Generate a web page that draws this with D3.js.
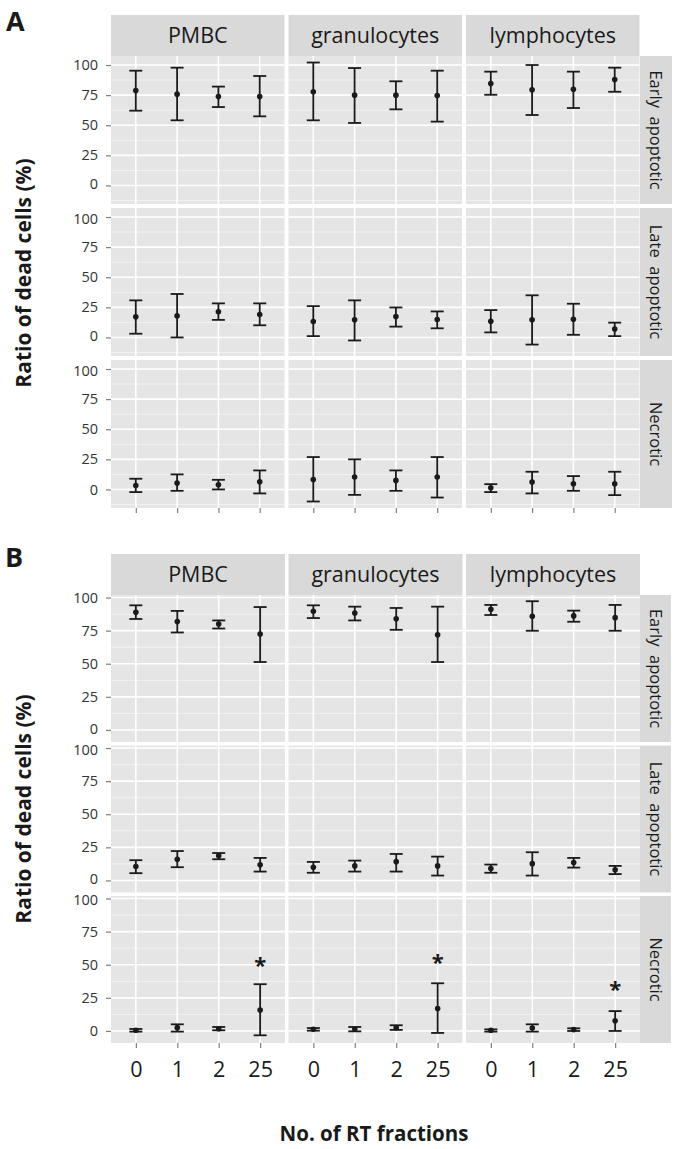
<!DOCTYPE html>
<html><head><meta charset="utf-8">
<script src="https://cdn.jsdelivr.net/npm/d3@7"></script>
<style>
html,body{margin:0;padding:0;background:#fff;}
svg{display:block;}
text{font-family:"Open Sans", sans-serif;}
</style></head><body>
<svg id="chart" width="678" height="1149"></svg>
<script>
// ---------- data ----------
const cellTypes = ["PMBC", "granulocytes", "lymphocytes"];
const stages = ["Early  apoptotic", "Late  apoptotic", "Necrotic"];
const fractions = ["0", "1", "2", "25"];
const yTickValues = [0, 25, 50, 75, 100];
const yMinorValues = [-12.5, 12.5, 37.5, 62.5, 87.5];

// Panel A (per cell type: values for fractions 0, 1, 2, 25)
const aEarlyMean  = [[78.8, 75.8, 73.9, 73.9], [77.8, 75.0, 75.0, 74.7], [84.6, 79.4, 79.9, 87.9]];
const aEarlyLower = [[62.1, 54.1, 65.1, 57.4], [54.1, 51.9, 63.2, 53.0], [75.3, 58.5, 64.3, 77.8]];
const aEarlyUpper = [[95.3, 97.8, 82.1, 90.9], [102.1, 97.5, 86.5, 95.3], [94.5, 100.0, 94.5, 97.8]];
const aLateMean   = [[17.1, 17.9, 21.3, 19.0], [13.2, 14.6, 17.4, 14.9], [13.4, 14.6, 15.1, 7.0]];
const aLateLower  = [[3.1, 0.0, 14.6, 10.1], [1.1, -2.5, 9.0, 7.6], [4.2, -5.9, 2.2, 1.1]];
const aLateUpper  = [[30.8, 36.1, 28.3, 28.3], [26.0, 30.8, 24.9, 21.6], [22.7, 35.0, 28.0, 12.3]];
const aNecMean    = [[3.3, 5.3, 3.9, 6.4], [8.3, 10.3, 7.5, 10.3], [1.4, 6.1, 4.7, 4.7]];
const aNecLower   = [[-2.2, -1.1, 0.0, -3.3], [-10.0, -4.5, -1.1, -6.7], [-2.2, -3.3, -1.1, -4.7]];
const aNecUpper   = [[8.9, 12.5, 8.0, 15.8], [26.9, 25.0, 15.8, 26.9], [4.4, 14.7, 11.1, 14.7]];

// Panel B
const bEarlyMean  = [[88.8, 81.9, 80.0, 72.4], [89.6, 88.3, 84.0, 71.8], [91.1, 85.8, 86.1, 84.8]];
const bEarlyLower = [[83.8, 73.6, 76.6, 51.3], [84.5, 82.7, 75.6, 51.3], [86.8, 74.9, 81.7, 74.9]];
const bEarlyUpper = [[94.1, 89.9, 82.7, 92.8], [94.1, 93.1, 92.1, 93.1], [94.4, 97.2, 90.1, 94.4]];
const bLateMean   = [[10.5, 16.0, 18.7, 11.8], [10.0, 11.0, 14.2, 11.0], [9.0, 12.7, 13.5, 8.0]];
const bLateLower  = [[5.5, 10.0, 16.0, 6.7], [5.8, 6.7, 6.7, 3.7], [5.8, 3.7, 9.7, 4.8]];
const bLateUpper  = [[15.3, 22.2, 20.7, 17.0], [14.0, 15.0, 20.0, 18.0], [12.0, 21.3, 17.0, 11.0]];
const bNecMean    = [[0.5, 2.5, 1.7, 15.8], [1.2, 1.5, 2.5, 17.0], [0.5, 2.2, 1.0, 7.7]];
const bNecLower   = [[-0.5, -0.5, 0.5, -3.3], [0.2, -0.3, 0.8, -1.5], [-0.5, -0.5, 0.0, 0.0]];
const bNecUpper   = [[1.5, 5.0, 3.0, 35.3], [2.2, 3.0, 4.3, 36.0], [1.2, 5.0, 2.0, 15.0]];

// significance marks in panel B (Necrotic, 25 fractions)
const bStarCells = ["PMBC", "granulocytes", "lymphocytes"];
const bStarFraction = "25";
const bStarValue = [53, 55.3, 34.5];

// ---------- build tables ----------
function buildRows(means, lowers, uppers) {
  const rows = [];
  stages.forEach((stage, si) => {
    cellTypes.forEach((cell, ci) => {
      fractions.forEach((f, fi) => {
        rows.push({stage, cell, fraction: f,
          mean: means[si][ci][fi], lower: lowers[si][ci][fi], upper: uppers[si][ci][fi]});
      });
    });
  });
  return rows;
}
const dataA = buildRows([aEarlyMean, aLateMean, aNecMean], [aEarlyLower, aLateLower, aNecLower], [aEarlyUpper, aLateUpper, aNecUpper]);
const dataB = buildRows([bEarlyMean, bLateMean, bNecMean], [bEarlyLower, bLateLower, bNecLower], [bEarlyUpper, bLateUpper, bNecUpper]);
const starsB = bStarCells.map((c, i) => ({cell: c, fraction: bStarFraction, stage: "Necrotic", value: bStarValue[i]}));

// ---------- styling ----------
const PANEL_BG = "#E5E5E5";
const STRIP_BG = "#D9D9D9";
const MINOR = "#F2F2F2";
const INK = "#1a1a1a";

const svg = d3.select("#chart");

function drawFigure(cfg, data, stars, showXLabels) {
  const g = svg.append("g");
  const x = d3.scalePoint().domain(fractions).range([0, cfg.panelW]).padding(0.6);

  cellTypes.forEach((cell, ci) => {
    const px = cfg.left + ci * (cfg.panelW + cfg.gapX);
    g.append("rect").attr("x", px).attr("y", cfg.stripTop)
      .attr("width", cfg.panelW).attr("height", cfg.stripH).attr("fill", STRIP_BG);
    g.append("text").attr("x", px + cfg.panelW / 2).attr("y", cfg.stripTop + cfg.stripH / 2)
      .attr("dy", "0.36em").attr("text-anchor", "middle").attr("font-size", 21.5)
      .attr("fill", INK).text(cell);

    stages.forEach((stage, si) => {
      const py = cfg.rowTops[si];
      const y = d3.scaleLinear().domain(cfg.yDomain).range([py + cfg.panelH, py]);
      const pg = g.append("g");
      pg.append("rect").attr("x", px).attr("y", py).attr("width", cfg.panelW)
        .attr("height", cfg.panelH).attr("fill", PANEL_BG);
      pg.selectAll(".mn").data(yMinorValues.filter(v => v >= cfg.yDomain[0] && v <= cfg.yDomain[1]))
        .join("line").attr("x1", px).attr("x2", px + cfg.panelW)
        .attr("y1", d => y(d)).attr("y2", d => y(d))
        .attr("stroke", MINOR).attr("stroke-width", 1);
      pg.selectAll(".mj").data(yTickValues).join("line")
        .attr("x1", px).attr("x2", px + cfg.panelW)
        .attr("y1", d => y(d)).attr("y2", d => y(d))
        .attr("stroke", "#fff").attr("stroke-width", 1.6);
      pg.selectAll(".vx").data(fractions).join("line")
        .attr("x1", d => px + x(d)).attr("x2", d => px + x(d))
        .attr("y1", py).attr("y2", py + cfg.panelH)
        .attr("stroke", "#fff").attr("stroke-width", 1.6);

      const rows = data.filter(d => d.stage === stage && d.cell === cell);
      const eb = pg.selectAll(".eb").data(rows).join("g");
      eb.append("line").attr("x1", d => px + x(d.fraction)).attr("x2", d => px + x(d.fraction))
        .attr("y1", d => y(d.lower)).attr("y2", d => y(d.upper))
        .attr("stroke", INK).attr("stroke-width", 1.8);
      eb.append("line").attr("x1", d => px + x(d.fraction) - 6.5).attr("x2", d => px + x(d.fraction) + 6.5)
        .attr("y1", d => y(d.lower)).attr("y2", d => y(d.lower))
        .attr("stroke", INK).attr("stroke-width", 1.8);
      eb.append("line").attr("x1", d => px + x(d.fraction) - 6.5).attr("x2", d => px + x(d.fraction) + 6.5)
        .attr("y1", d => y(d.upper)).attr("y2", d => y(d.upper))
        .attr("stroke", INK).attr("stroke-width", 1.8);
      eb.append("circle").attr("cx", d => px + x(d.fraction)).attr("cy", d => y(d.mean))
        .attr("r", 2.8).attr("fill", INK);

      const st = stars.filter(d => d.stage === stage && d.cell === cell);
      pg.selectAll(".st").data(st).join("text")
        .attr("x", d => px + x(d.fraction)).attr("y", d => y(d.value) + 12)
        .attr("text-anchor", "middle").attr("font-size", 22).attr("font-weight", "bold")
        .attr("fill", INK).text("*");

      if (ci === 0) {
        const ax = g.append("g").attr("transform", `translate(${cfg.left},0)`)
          .call(d3.axisLeft(y).tickValues(yTickValues).tickSize(5).tickPadding(8));
        ax.select(".domain").remove();
        ax.selectAll(".tick line").attr("stroke", "#7f7f7f").attr("stroke-width", 1.2);
        ax.selectAll(".tick text").attr("font-size", 14.5).attr("fill", "#333")
          .attr("font-family", "Open Sans, sans-serif")
          .attr("y", d => (d === 100 && si > 0) ? 1.5 : (d === 0 && si < stages.length - 1) ? -1.5 : 0);
      }
      if (ci === cellTypes.length - 1) {
        const sx = px + cfg.panelW + cfg.stripGap;
        g.append("rect").attr("x", sx).attr("y", py).attr("width", cfg.rowStripW)
          .attr("height", cfg.panelH).attr("fill", STRIP_BG);
        g.append("text").attr("transform", `translate(${sx + cfg.rowStripW / 2},${py + cfg.panelH / 2}) rotate(90)`)
          .attr("dy", "0.36em").attr("text-anchor", "middle").attr("font-size", 16.5)
          .attr("fill", INK).style("white-space", "pre").text(stage);
      }
      if (si === stages.length - 1) {
        const xa = g.append("g").attr("transform", `translate(${px},${py + cfg.panelH})`)
          .call(d3.axisBottom(x).tickSize(5).tickPadding(14).tickFormat(showXLabels ? (d => d) : (() => "")));
        xa.select(".domain").remove();
        xa.selectAll(".tick line").attr("stroke", "#7f7f7f").attr("stroke-width", 1.2);
        xa.selectAll(".tick text").attr("font-size", 21.5).attr("fill", INK)
          .attr("font-family", "Open Sans, sans-serif");
      }
    });
  });

  g.append("text").attr("transform", `translate(${cfg.yTitleX},${cfg.yTitleY}) rotate(-90)`)
    .attr("text-anchor", "middle").attr("font-size", 21).attr("font-weight", "bold")
    .attr("fill", INK).text("Ratio of dead cells (%)");
  g.append("text").attr("x", cfg.letterX).attr("y", cfg.letterY)
    .attr("font-size", 27).attr("font-weight", "bold").attr("fill", INK).text(cfg.letter);
}

const cfgA = {letter: "A", letterX: 6, letterY: 31,
  left: 111, panelW: 173.5, gapX: 4, stripTop: 15, stripH: 41,
  rowTops: [56, 208, 360], panelH: 148, yDomain: [-15.4, 107.5],
  stripGap: 0.5, rowStripW: 32, yTitleX: 31, yTitleY: 273};
const cfgB = {letter: "B", letterX: 5, letterY: 567,
  left: 111, panelW: 174, gapX: 3.5, stripTop: 554, stripH: 41,
  rowTops: [595, 745.5, 896], panelH: 147, yDomain: [-9.1, 101.9],
  stripGap: 0, rowStripW: 31, yTitleX: 31, yTitleY: 809};

drawFigure(cfgA, dataA, [], false);
drawFigure(cfgB, dataB, starsB, true);

svg.append("text").attr("x", 374).attr("y", 1141).attr("text-anchor", "middle")
  .attr("font-size", 20.5).attr("font-weight", "bold").attr("fill", INK)
  .text("No. of RT fractions");
</script>
</body></html>
